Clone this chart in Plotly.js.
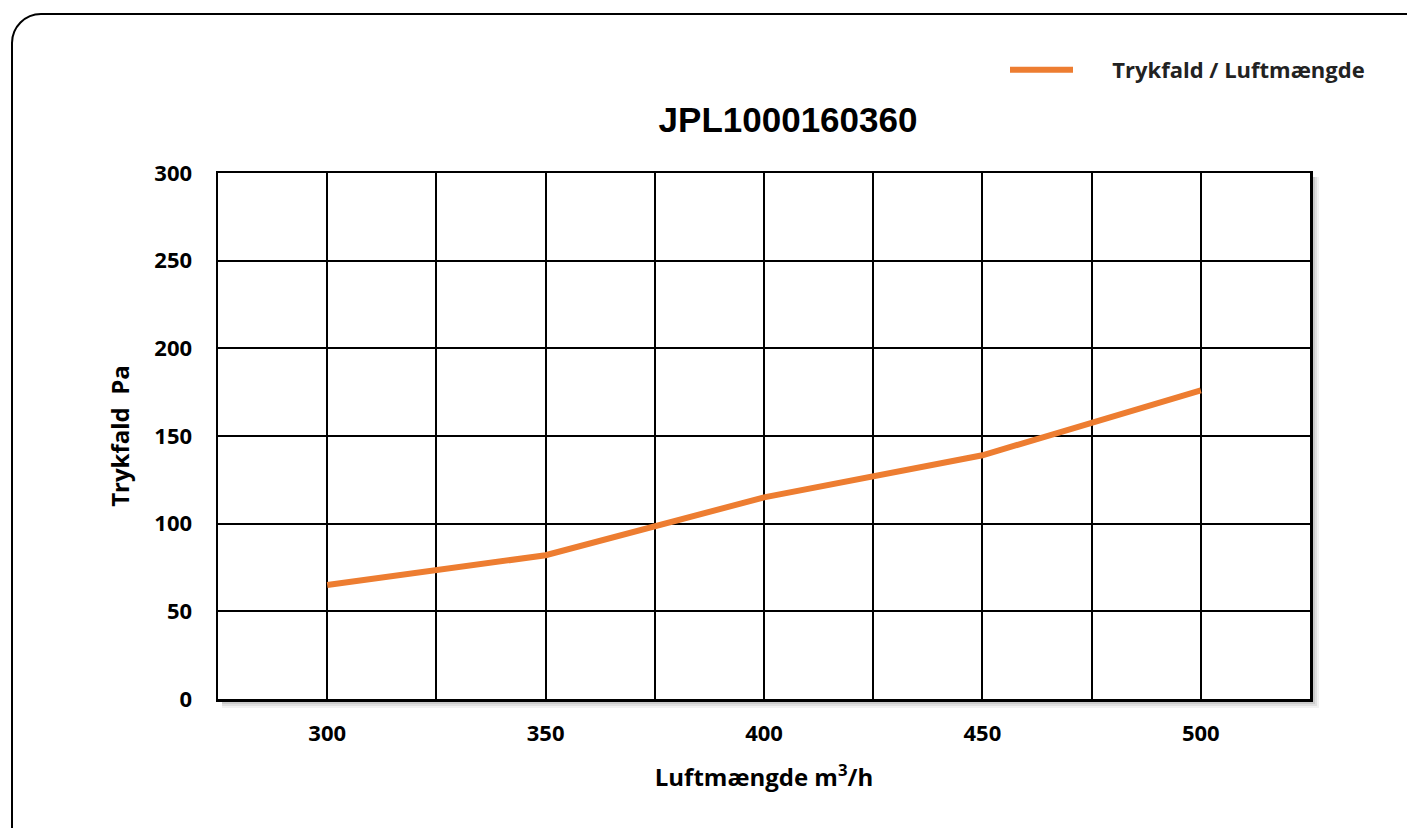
<!DOCTYPE html>
<html>
<head>
<meta charset="utf-8">
<script src="https://cdn.plot.ly/plotly-3.0.1.min.js"></script>
<style>
  html, body { margin: 0; padding: 0; background: #ffffff; overflow: hidden; }
  #wrap { position: relative; width: 1407px; height: 828px; overflow: hidden; background: #ffffff; }
  #frame { position: absolute; left: 11px; top: 13px; width: 1440px; height: 860px;
           border: 2.5px solid #000; border-radius: 30px; box-sizing: border-box; }
  #chart { position: absolute; left: 0; top: 0; width: 1407px; height: 828px; }
</style>
</head>
<body>
<div id="wrap">
  <div id="frame"></div>
  <div id="chart"></div>
</div>
<script>
// ---- data ----
const chartTitle = "JPL1000160360";
const seriesName = "Trykfald / Luftmængde";
const airflow = [300, 350, 400, 450, 500];          // m3/h
const pressureDrop = [65, 82, 115, 139, 176];       // Pa
const xTickVals = [300, 350, 400, 450, 500];
const xTickText = ["300", "350", "400", "450", "500"];
const xGridVals = [300, 325, 350, 375, 400, 425, 450, 475, 500];
const xTitle = "Luftmængde m<sup>3</sup>/h";
const yTitle = "Trykfald\u00a0 Pa";

// ---- layout geometry ----
const W = 1407, H = 828;
const M = { l: 218, r: 97, t: 173, b: 129, autoexpand: false };
const PW = W - M.l - M.r, PH = H - M.t - M.b;
const fx = px => px / PW, fy = px => px / PH;

const shadows = [];
[[9, 0.05], [7, 0.07], [5, 0.09], [3, 0.12]].forEach(([d, a]) => {
  shadows.push({ type: 'rect', xref: 'paper', yref: 'paper', layer: 'below',
    x0: 1, x1: 1 + fx(d), y0: -fy(d), y1: 1 - fy(4),
    fillcolor: 'rgba(0,0,0,' + a + ')', line: { width: 0 } });
  shadows.push({ type: 'rect', xref: 'paper', yref: 'paper', layer: 'below',
    x0: fx(4), x1: 1, y0: -fy(d), y1: 0,
    fillcolor: 'rgba(0,0,0,' + a + ')', line: { width: 0 } });
});

const font = "'Open Sans', Lato, sans-serif";
const legendPad = "\u00a0\u00a0\u00a0\u00a0\u00a0\u00a0";

const trace = {
  x: airflow, y: pressureDrop, name: legendPad + seriesName,
  type: 'scatter', mode: 'lines',
  line: { color: '#ED7D31', width: 6 },
  showlegend: true
};

const layout = {
  width: W, height: H,
  margin: M,
  paper_bgcolor: 'rgba(0,0,0,0)',
  plot_bgcolor: 'rgba(0,0,0,0)',
  title: { text: chartTitle, font: { family: "'Liberation Sans', Arial, sans-serif", size: 35, color: '#000', weight: 'bold' },
           xref: 'container', x: 788 / W, xanchor: 'center', yref: 'container', y: 1 - 120 / H, yanchor: 'middle' },
  showlegend: true,
  legend: { x: 1005 / W, xref: 'container', xanchor: 'left', y: 1 - 70 / H, yref: 'container', yanchor: 'middle',
            font: { family: font, size: 22, color: '#222', weight: 'bold' },
            itemwidth: 63, bgcolor: 'rgba(0,0,0,0)' },
  xaxis: {
    range: [275, 525], tickmode: 'array', tickvals: xTickVals, ticktext: xTickText,
    showgrid: true, gridcolor: '#000', gridwidth: 2,
    minor: { tickmode: 'array', tickvals: xGridVals, showgrid: true, gridcolor: '#000', gridwidth: 2, ticks: '' },
    showline: true, linecolor: '#000', linewidth: 2.5, mirror: true,
    ticks: '', ticklabelstandoff: 13, zeroline: false,
    tickfont: { family: font, size: 22, color: '#000', weight: 'bold' },
    title: { text: xTitle, font: { family: font, size: 24, color: '#000', weight: 'bold' }, standoff: 24 },
    fixedrange: true
  },
  yaxis: {
    range: [0, 300], dtick: 50, tick0: 0,
    showgrid: true, gridcolor: '#000', gridwidth: 2,
    showline: true, linecolor: '#000', linewidth: 2.5, mirror: true,
    ticks: '', ticklabelstandoff: 19, zeroline: false,
    tickfont: { family: font, size: 22, color: '#000', weight: 'bold' },
    title: { text: yTitle, font: { family: font, size: 24, color: '#000', weight: 'bold' }, standoff: 18 },
    fixedrange: true
  },
  shapes: shadows
};

Plotly.newPlot('chart', [trace], layout, { displayModeBar: false, staticPlot: true });
</script>
</body>
</html>
